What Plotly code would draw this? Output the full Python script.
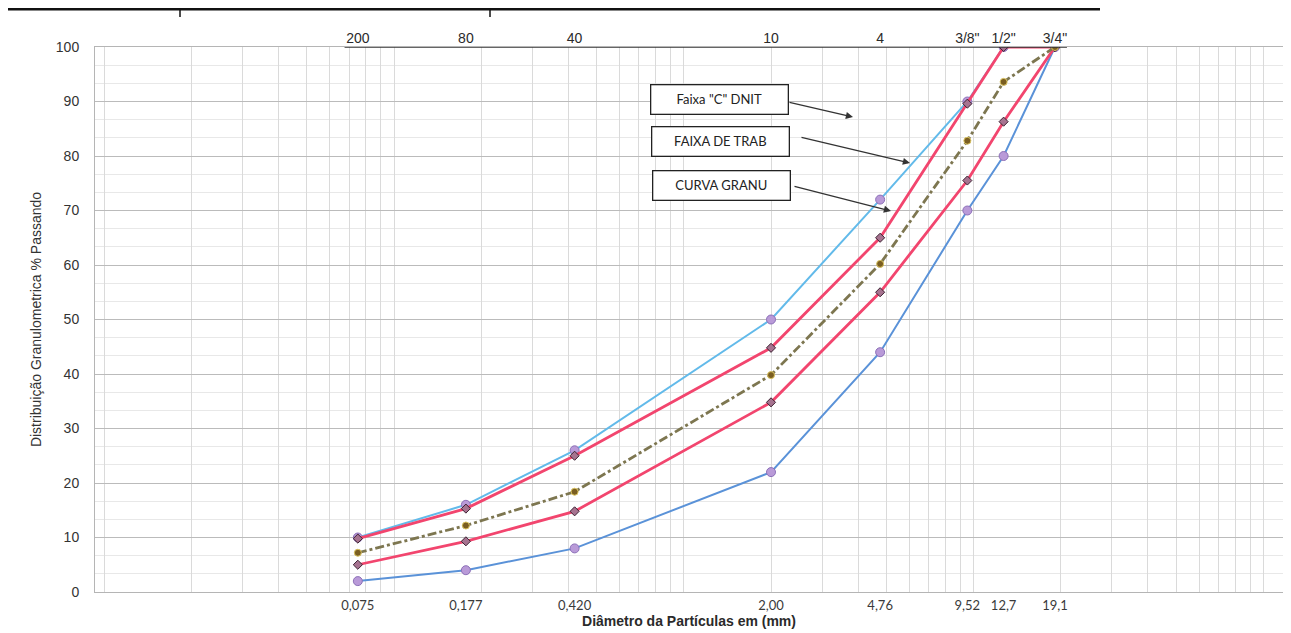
import plotly.graph_objects as go

# ---------------- data ----------------
sieve_mm = [0.075, 0.177, 0.42, 2.0, 4.76, 9.52, 12.7, 19.1]
sieve_mm_labels = ["0,075", "0,177", "0,420", "2,00", "4,76", "9,52", "12,7", "19,1"]
sieve_names = ["200", "80", "40", "10", "4", '3/8"', '1/2"', '3/4"']

dnit_sup = [10, 16, 26, 50, 72, 90, 100, 100]
dnit_inf = [2, 4, 8, 22, 44, 70, 80, 100]
trab_sup = [9.8, 15.3, 25, 44.8, 65, 89.6, 100, 100]
trab_inf = [5.0, 9.3, 14.8, 34.8, 55, 75.5, 86.3, 100]
curva = [7.2, 12.2, 18.4, 39.8, 60.2, 82.8, 93.6, 100]

legend_boxes = ['Faixa "C" DNIT', "FAIXA DE TRAB", "CURVA GRANU"]

# ---------------- figure ----------------
fig = go.Figure()

fig.add_trace(go.Scatter(
    x=sieve_mm, y=dnit_inf, mode="lines+markers", name="DNIT inf",
    line=dict(color="#5A92D8", width=2),
    marker=dict(symbol="circle", size=9, color="#B99AD8", line=dict(color="#8C70B8", width=1))))
fig.add_trace(go.Scatter(
    x=sieve_mm, y=dnit_sup, mode="lines+markers", name="DNIT sup",
    line=dict(color="#62BAEA", width=2),
    marker=dict(symbol="circle", size=9, color="#B99AD8", line=dict(color="#8C70B8", width=1))))
fig.add_trace(go.Scatter(
    x=sieve_mm, y=trab_inf, mode="lines+markers", name="Trab inf",
    line=dict(color="#F2456E", width=2.8),
    marker=dict(symbol="diamond", size=7, color="#A67390", line=dict(color="#3C2232", width=1))))
fig.add_trace(go.Scatter(
    x=sieve_mm, y=trab_sup, mode="lines+markers", name="Trab sup",
    line=dict(color="#F2456E", width=2.8),
    marker=dict(symbol="diamond", size=7, color="#A67390", line=dict(color="#3C2232", width=1))))
fig.add_trace(go.Scatter(
    x=sieve_mm, y=curva, mode="lines+markers", name="Curva",
    line=dict(color="#7D7650", width=2.8, dash="dashdot"),
    marker=dict(symbol="circle", size=7, color="#7A5E22", line=dict(color="#D9C25E", width=1))))

# invisible traces to make overlay axes render
fig.add_trace(go.Scatter(x=[sieve_mm[0]], y=[0], xaxis="x2", mode="markers",
                         marker=dict(opacity=0), showlegend=False, hoverinfo="skip"))
fig.add_trace(go.Scatter(x=[sieve_mm[0]], y=[0], xaxis="x3", mode="markers",
                         marker=dict(opacity=0), showlegend=False, hoverinfo="skip"))

# page body has an 8px margin; figure is sized to fit the 1291x633 window
OFF = 8
W, H = 1291 - OFF, 633 - OFF
L, R, T, B = 87, 8, 39, 41
pw, ph = W - L - R, H - T - B
XR = [-2.032, 2.068]


def px(xs):  # screenshot x -> paper
    return (xs - OFF - L) / pw


def py(ys):  # screenshot y -> paper
    return (H - B - (ys - OFF)) / ph


fig.update_layout(
    width=W, height=H,
    margin=dict(l=L, r=R, t=T, b=B, autoexpand=False),
    paper_bgcolor="white", plot_bgcolor="white",
    showlegend=False,
    font=dict(family="Arial, Liberation Sans, sans-serif", size=14, color="#333333"),
    xaxis=dict(
        type="log", range=XR, dtick="D1", automargin=False,
        showgrid=True, gridcolor="#DADADA", gridwidth=1,
        showticklabels=False, ticks="", zeroline=False,
        showline=True, linecolor="#B5B5B5", mirror=True,
    ),
    xaxis2=dict(
        type="log", range=XR, overlaying="x", side="bottom", anchor="y", automargin=False,
        tickmode="array", tickvals=sieve_mm, ticktext=sieve_mm_labels,
        showgrid=False, ticks="", zeroline=False, showline=False,
        tickfont=dict(family="Lato, Open Sans, sans-serif", size=13, color="#3A3A3A"),
        ticklabelstandoff=4,
        title=dict(text="<b>Diâmetro da Partículas em (mm)</b>", standoff=2,
                   font=dict(family="Arial, Liberation Sans, sans-serif", size=14, color="#2A2A2A")),
    ),
    xaxis3=dict(
        type="log", range=XR, overlaying="x", side="top", anchor="y", automargin=False,
        tickmode="array", tickvals=sieve_mm, ticktext=sieve_names,
        showgrid=False, ticks="", zeroline=False, showline=False,
        tickfont=dict(family="Arial, Liberation Sans, sans-serif", size=14, color="#2A2A2A"),
        ticklabelstandoff=0,
    ),
    yaxis=dict(
        range=[0, 100], dtick=10, tick0=0, automargin=False,
        showgrid=True, gridcolor="#BBBBBB", gridwidth=1,
        minor=dict(dtick=10 / 3, tick0=0, showgrid=True, gridcolor="#E8E8E8", gridwidth=1),
        zeroline=False, ticks="", ticklabelstandoff=12,
        showline=True, linecolor="#B5B5B5",
        tickfont=dict(family="Arial, Liberation Sans, sans-serif", size=14, color="#333333"),
        title=dict(text="Distribuição Granulometrica % Passando", standoff=10,
                   font=dict(family="Arial, Liberation Sans, sans-serif", size=14, color="#333333")),
    ),
)

# label boxes (screenshot pixel centres)
box_centers = [(719, 100), (720, 142), (721, 186)]
for txt, (cx, cy) in zip(legend_boxes, box_centers):
    fig.add_annotation(
        x=px(cx), y=py(cy), xref="paper", yref="paper", text=txt, showarrow=False,
        font=dict(family="Lato, Open Sans, sans-serif", size=13, color="#222222"),
        bgcolor="white", bordercolor="#222222", borderwidth=1.3,
        width=134, height=26, xanchor="center", yanchor="middle")

# arrows (head, tail offset in pixels)
arrows = [((853, 117), (-65, -15)), ((910, 163), (-110, -26)), ((891, 211), (-98, -25))]
for (hx, hy), (ax, ay) in arrows:
    fig.add_annotation(
        x=px(hx), y=py(hy), xref="paper", yref="paper", text="", showarrow=True,
        ax=ax, ay=ay, arrowhead=2, arrowsize=1.1, arrowwidth=1.3, arrowcolor="#333333")

# scanned page artifacts: top border line and top axis line
fig.add_shape(type="line", xref="paper", yref="paper", x0=px(OFF), x1=px(1100), y0=py(OFF + 1),
              y1=py(OFF + 1), line=dict(color="#111111", width=3))
fig.add_shape(type="line", xref="paper", yref="paper", x0=px(180), x1=px(180), y0=py(OFF),
              y1=py(OFF + 9), line=dict(color="#111111", width=1.5))
fig.add_shape(type="line", xref="paper", yref="paper", x0=px(490), x1=px(490), y0=py(OFF),
              y1=py(OFF + 9), line=dict(color="#111111", width=1.5))
fig.add_shape(type="line", xref="x", yref="y", x0=sieve_mm[0] * 0.9, x1=sieve_mm[-1] * 1.1,
              y0=100, y1=100, line=dict(color="#333333", width=1.5))

fig.write_html("out.html")
